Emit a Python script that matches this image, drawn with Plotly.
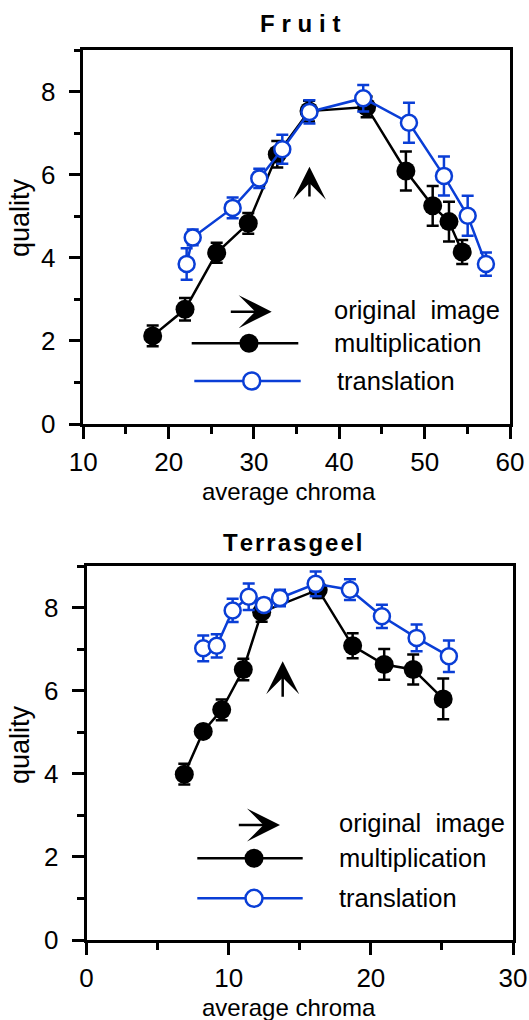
import plotly.graph_objects as go

W, H = 529, 1020
BLUE = "#0a3ed6"
FONT = "Liberation Sans, Arial, sans-serif"

# ---- Fruit data ----
fruit_mult_x = [18.13, 21.92, 25.63, 29.33, 32.73, 36.45, 43.2, 47.8, 50.94, 52.85, 54.4]
fruit_mult_y = [2.12, 2.76, 4.12, 4.83, 6.49, 7.53, 7.63, 6.09, 5.25, 4.87, 4.14]
fruit_mult_e = [0.25, 0.27, 0.24, 0.25, 0.32, 0.25, 0.25, 0.47, 0.48, 0.48, 0.29]
fruit_trans_x = [22.11, 22.82, 27.5, 30.62, 33.32, 36.5, 42.8, 48.16, 52.26, 55.04, 57.18]
fruit_trans_y = [3.85, 4.49, 5.20, 5.91, 6.61, 7.51, 7.84, 7.25, 5.97, 5.01, 3.85]
fruit_trans_e = [0.38, 0.19, 0.25, 0.23, 0.35, 0.28, 0.32, 0.48, 0.47, 0.48, 0.28]
fruit_orig = [36.5, 5.44, 6.19]  # chroma, arrow tail, arrow tip

# ---- Terrasgeel data ----
terr_mult_x = [6.88, 8.21, 9.51, 11.03, 12.32, 16.3, 18.72, 20.94, 22.98, 25.09]
terr_mult_y = [3.99, 5.02, 5.54, 6.51, 7.89, 8.43, 7.08, 6.63, 6.51, 5.80]
terr_mult_e = [0.25, 0.15, 0.25, 0.26, 0.23, 0.2, 0.3, 0.37, 0.36, 0.49]
terr_trans_x = [8.21, 9.16, 10.28, 11.41, 12.48, 13.61, 16.12, 18.53, 20.78, 23.22, 25.49]
terr_trans_y = [7.02, 7.08, 7.93, 8.26, 8.06, 8.23, 8.57, 8.43, 7.79, 7.27, 6.83]
terr_trans_e = [0.31, 0.28, 0.28, 0.32, 0.15, 0.2, 0.3, 0.25, 0.28, 0.32, 0.38]
terr_orig = [13.8, 5.82, 6.71]

legend_labels = ["original  image", "multiplication", "translation"]

fig = go.Figure()

def px(x):
    return x / W

def py(y):
    return 1 - y / H

def add_series(xs, ys, es, xa, ya, color, filled):
    fig.add_trace(go.Scatter(
        x=xs, y=ys, xaxis=xa, yaxis=ya, mode="lines+markers",
        line=dict(color=color, width=2.5),
        marker=dict(size=19 if filled else 16, color=color if filled else "white",
                    line=dict(color=color, width=2.5 if not filled else 0)),
        error_y=dict(type="data", array=es, symmetric=True, color=color,
                     thickness=2.5, width=6),
        showlegend=False, cliponaxis=False,
    ))

add_series(fruit_mult_x, fruit_mult_y, fruit_mult_e, "x", "y", "black", True)
add_series(fruit_trans_x, fruit_trans_y, fruit_trans_e, "x", "y", BLUE, False)
add_series(terr_mult_x, terr_mult_y, terr_mult_e, "x2", "y2", "black", True)
add_series(terr_trans_x, terr_trans_y, terr_trans_e, "x2", "y2", BLUE, False)

axis_common = dict(
    showline=True, linecolor="black", linewidth=2.5, mirror=True,
    ticks="outside", ticklen=12, tickwidth=2.5, tickcolor="black",
    showgrid=False, zeroline=False, automargin=False,
    tickfont=dict(family=FONT, size=26, color="black"),
)
minor = dict(ticklen=7, tickwidth=2.5, ticks="outside", tickcolor="black")

fig.update_layout(
    width=W, height=H, margin=dict(l=0, r=0, t=0, b=0),
    paper_bgcolor="white", plot_bgcolor="white",
    xaxis=dict(domain=[px(83.3), px(510)], range=[10, 60], dtick=10, anchor="y",
               minor=dict(dtick=5, **minor), ticklabelstandoff=1, **axis_common),
    yaxis=dict(domain=[py(424), py(50)], range=[0, 9], dtick=2, anchor="x",
               minor=dict(dtick=1, **minor), ticklabelstandoff=8, **axis_common),
    xaxis2=dict(domain=[px(86.5), px(513)], range=[0, 30], dtick=10, anchor="y2",
                minor=dict(dtick=5, **minor), ticklabelstandoff=1, **axis_common),
    yaxis2=dict(domain=[py(940), py(566)], range=[0, 9], dtick=2, anchor="x2",
                minor=dict(dtick=1, **minor), ticklabelstandoff=8, **axis_common),
)

annotations = []
shapes = []

def txt(text, x, y, size=24, bold=False, angle=0, xanchor="center", yanchor="middle"):
    annotations.append(dict(
        text=("<b>%s</b>" % text) if bold else text, x=px(x), y=py(y),
        xref="paper", yref="paper", showarrow=False, textangle=angle,
        xanchor=xanchor, yanchor=yanchor, borderpad=0,
        font=dict(family=FONT, size=size, color="black")))

# titles
txt("\u2009\u200a".join("Fruit"), 300.5, 23, size=24, bold=True)
txt("\u200a".join("Terrasgeel"), 292, 542, size=24, bold=True)
# axis titles
txt("average chroma", 289, 491, size=24)
txt("average chroma", 289, 1007, size=24)
txt("quality", 20, 218, size=27, angle=-90)
txt("quality", 20, 745, size=27, angle=-90)

# original image arrows (data coordinates)
for orig, xr, yr in [(fruit_orig, "x", "y"), (terr_orig, "x2", "y2")]:
    annotations.append(dict(
        x=orig[0], y=orig[2], ax=orig[0], ay=orig[1], xref=xr, yref=yr,
        axref=xr, ayref=yr, showarrow=True, arrowhead=3, arrowsize=2.2,
        arrowwidth=2.5, arrowcolor="black", text=""))

# legends (paper/pixel positions)
def legend(arrow_y, arrow_x0, arrow_x1, text_x, rows):
    annotations.append(dict(
        x=px(arrow_x1), y=py(arrow_y), xref="paper", yref="paper",
        ax=-(arrow_x1 - arrow_x0), ay=0, showarrow=True, arrowhead=3,
        arrowsize=2.2, arrowwidth=2.5, arrowcolor="black", text=""))
    txt(legend_labels[0], text_x, arrow_y - 2, size=25.5, xanchor="left")
    for (label, color, filled, y, x0, x1, xm, tx) in rows:
        shapes.append(dict(type="line", xref="paper", yref="paper",
                           x0=px(x0), x1=px(x1), y0=py(y), y1=py(y),
                           line=dict(color=color, width=2.5)))
        r = 9.5 if filled else 8.5
        shapes.append(dict(type="circle", xref="paper", yref="paper",
                           xsizemode="pixel", ysizemode="pixel",
                           xanchor=px(xm), yanchor=py(y),
                           x0=-r, x1=r, y0=-r, y1=r,
                           fillcolor=color if filled else "white",
                           line=dict(color=color, width=2.5 if not filled else 0)))
        txt(label, tx, y, size=25.5, xanchor="left")

legend(311.7, 229.3, 271.7, 333, [
    (legend_labels[1], "black", True, 343.3, 191.7, 298.3, 249, 333),
    (legend_labels[2], BLUE, False, 381, 194.3, 300.7, 251.7, 336),
])
legend(825, 237.3, 280, 338.3, [
    (legend_labels[1], "black", True, 858.3, 197.3, 302.7, 254, 338.3),
    (legend_labels[2], BLUE, False, 898.3, 197.3, 302.7, 254, 338.3),
])

fig.update_layout(annotations=annotations, shapes=shapes)
fig.write_html("out.html")
